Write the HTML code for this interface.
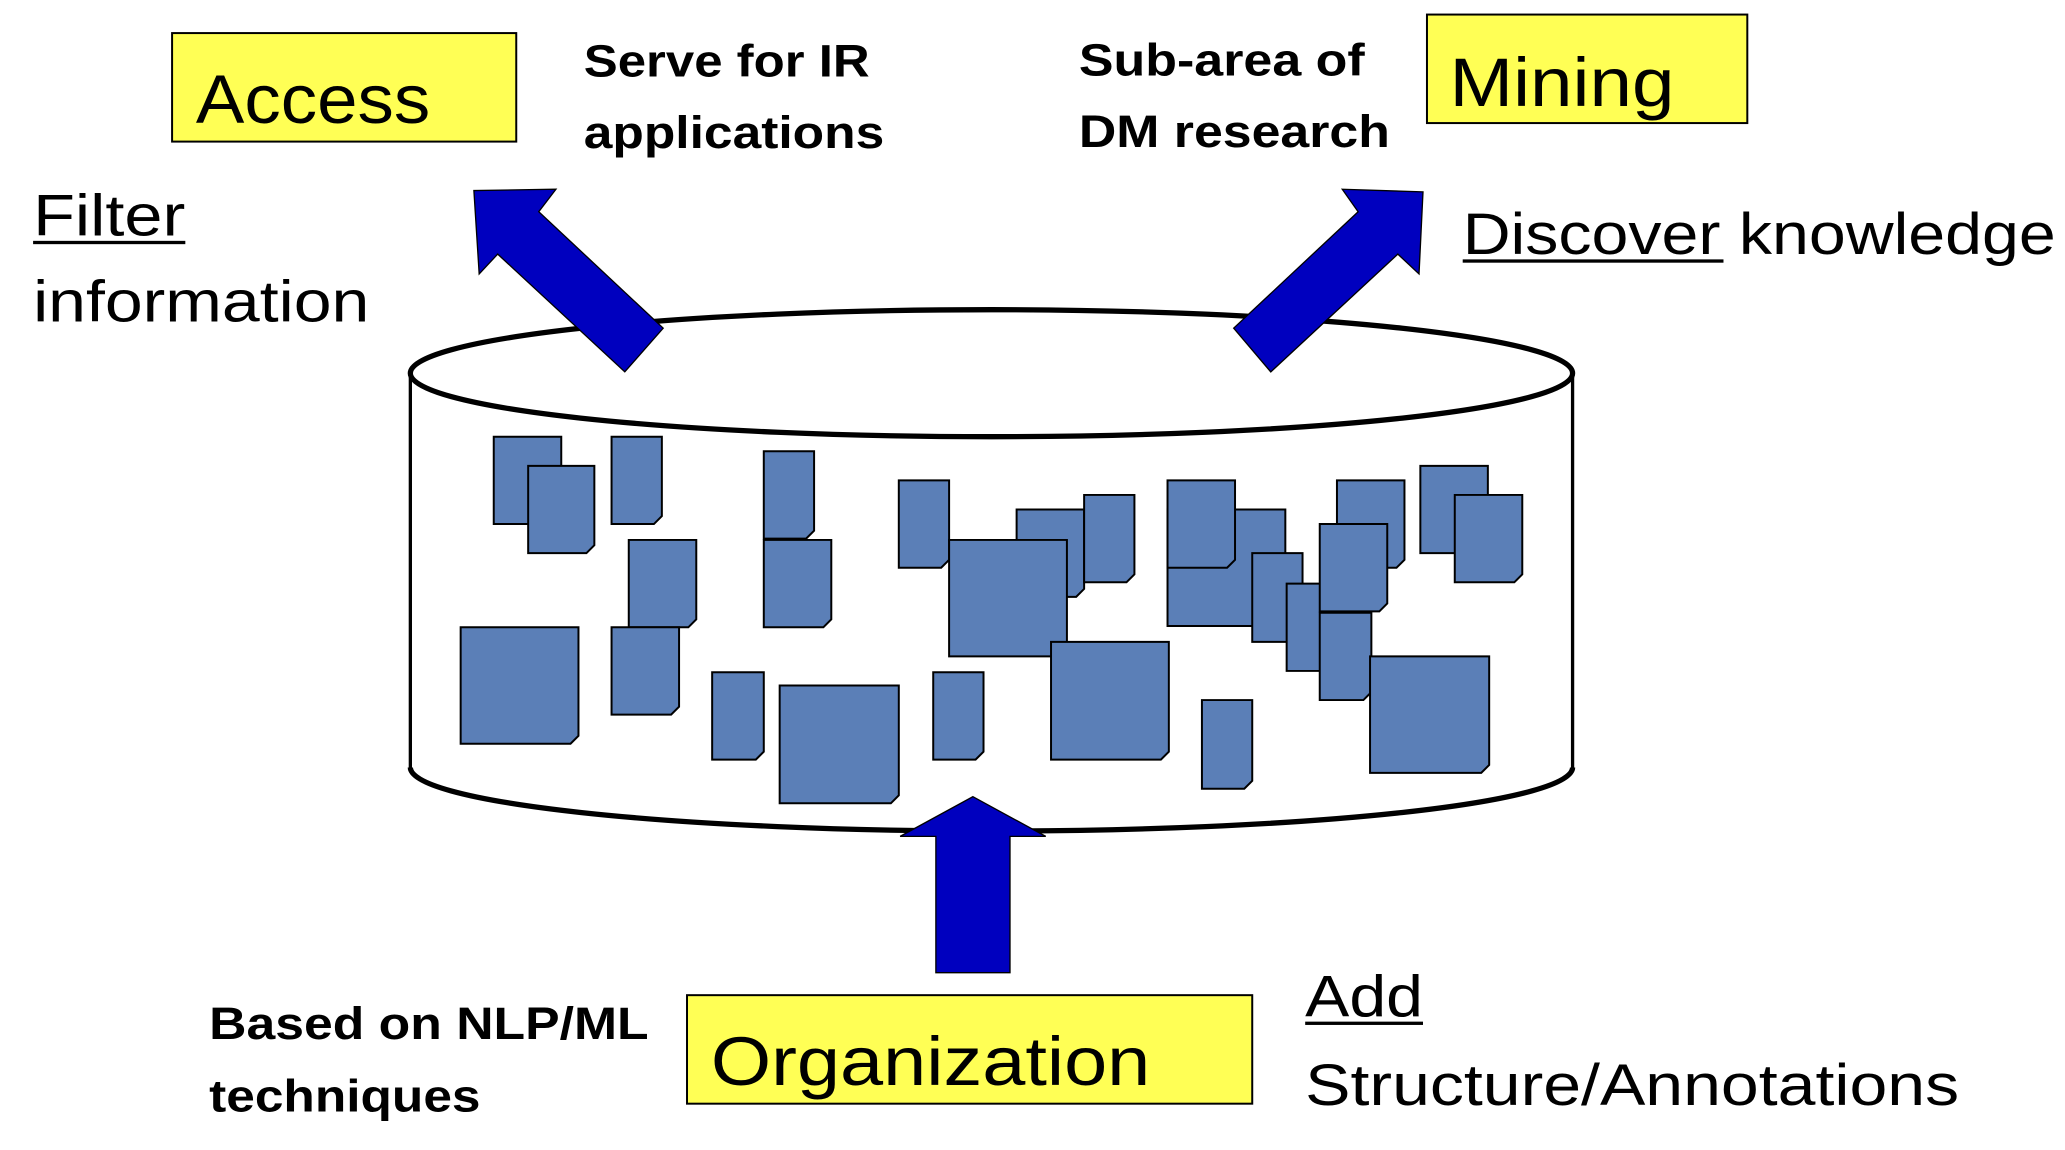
<!DOCTYPE html>
<html><head><meta charset="utf-8"><style>
html,body{margin:0;padding:0;background:#fff;}
svg{display:block;}
text{font-family:"Liberation Sans",sans-serif;fill:#000;}
.b{font-weight:bold;}
</style></head><body>
<svg width="2065" height="1150" viewBox="0 0 1560 869" preserveAspectRatio="none" xmlns="http://www.w3.org/2000/svg">
<rect x="130" y="25" width="260" height="82" fill="#ffff55" stroke="#000" stroke-width="1.5"/>
<text x="148" y="93" font-size="52" textLength="177" lengthAdjust="spacingAndGlyphs">Access</text>
<text class="b" x="441" y="58" font-size="34" textLength="216" lengthAdjust="spacingAndGlyphs">Serve for IR</text>
<text class="b" x="441" y="112" font-size="34" textLength="227" lengthAdjust="spacingAndGlyphs">applications</text>
<text x="25" y="178" font-size="44" textLength="115" lengthAdjust="spacingAndGlyphs">Filter</text>
<rect x="25" y="182" width="115" height="2.5" fill="#000"/>
<text x="25" y="243" font-size="44" textLength="254" lengthAdjust="spacingAndGlyphs">information</text>
<rect x="1078" y="11" width="242" height="82" fill="#ffff55" stroke="#000" stroke-width="1.5"/>
<text x="1095" y="80" font-size="52" textLength="170" lengthAdjust="spacingAndGlyphs">Mining</text>
<text class="b" x="815" y="57" font-size="34" textLength="216" lengthAdjust="spacingAndGlyphs">Sub-area of</text>
<text class="b" x="815" y="111" font-size="34" textLength="235" lengthAdjust="spacingAndGlyphs">DM research</text>
<text x="1105" y="192" font-size="44" textLength="448" lengthAdjust="spacingAndGlyphs">Discover knowledge</text>
<rect x="1105" y="196" width="197" height="2.5" fill="#000"/>
<path d="M310,282 V580 A439,48 0 0 0 1188,580 V282" fill="#fff" stroke="#000" stroke-width="2.5"/>
<path d="M310,580 A439,48 0 0 0 1188,580" fill="none" stroke="#000" stroke-width="4"/>
<ellipse cx="749" cy="282" rx="439" ry="48" fill="#fff" stroke="#000" stroke-width="4"/>
<g fill="#5b7fb7" stroke="#000" stroke-width="1.5">
<path d="M373,330H424V390L418,396H373Z"/>
<path d="M399,352H449V412L443,418H399Z"/>
<path d="M462,330H500V390L494,396H462Z"/>
<path d="M475,408H526V468L520,474H475Z"/>
<path d="M577,341H615V401L609,407H577Z"/>
<path d="M577,408H628V468L622,474H577Z"/>
<path d="M679,363H717V423L711,429H679Z"/>
<path d="M768,385H819V445L813,451H768Z"/>
<path d="M819,374H857V434L851,440H819Z"/>
<path d="M717,408H806V490L800,496H717Z"/>
<path d="M348,474H437V556L431,562H348Z"/>
<path d="M462,474H513V534L507,540H462Z"/>
<path d="M538,508H577V568L571,574H538Z"/>
<path d="M589,518H679V601L673,607H589Z"/>
<path d="M705,508H743V568L737,574H705Z"/>
<path d="M794,485H883V568L877,574H794Z"/>
<path d="M882,385H971V467L965,473H882Z"/>
<path d="M882,363H933V423L927,429H882Z"/>
<path d="M946,418H984V479L978,485H946Z"/>
<path d="M972,441H1010V501L1004,507H972Z"/>
<path d="M1010,363H1061V423L1055,429H1010Z"/>
<path d="M997,396H1048V456L1042,462H997Z"/>
<path d="M997,463H1036V523L1030,529H997Z"/>
<path d="M1073,352H1124V412L1118,418H1073Z"/>
<path d="M1099,374H1150V434L1144,440H1099Z"/>
<path d="M908,529H946V590L940,596H908Z"/>
<path d="M1035,496H1125V578L1119,584H1035Z"/>
</g>
<polygon points="358,144 420,143 407,160 501,248 472,281 376,192 362,207" fill="#0000bf" stroke="#000" stroke-width="1"/>
<polygon points="1014,143 1075,145 1072,207 1056,192 960,281 932,248 1026,160" fill="#0000bf" stroke="#000" stroke-width="1"/>
<polygon points="735,602 790,632 763,632 763,735 707,735 707,632 680,632" fill="#0000bf" stroke="#000" stroke-width="1"/>
<rect x="519" y="752" width="427" height="82" fill="#ffff55" stroke="#000" stroke-width="1.5"/>
<text x="537" y="820" font-size="52" textLength="332" lengthAdjust="spacingAndGlyphs">Organization</text>
<text class="b" x="158" y="785" font-size="34" textLength="332" lengthAdjust="spacingAndGlyphs">Based on NLP/ML</text>
<text class="b" x="158" y="840" font-size="34" textLength="205" lengthAdjust="spacingAndGlyphs">techniques</text>
<text x="986" y="768" font-size="44" textLength="89" lengthAdjust="spacingAndGlyphs">Add</text>
<rect x="986" y="772" width="89" height="2.5" fill="#000"/>
<text x="986" y="835" font-size="44" textLength="494" lengthAdjust="spacingAndGlyphs">Structure/Annotations</text>
</svg>
</body></html>
